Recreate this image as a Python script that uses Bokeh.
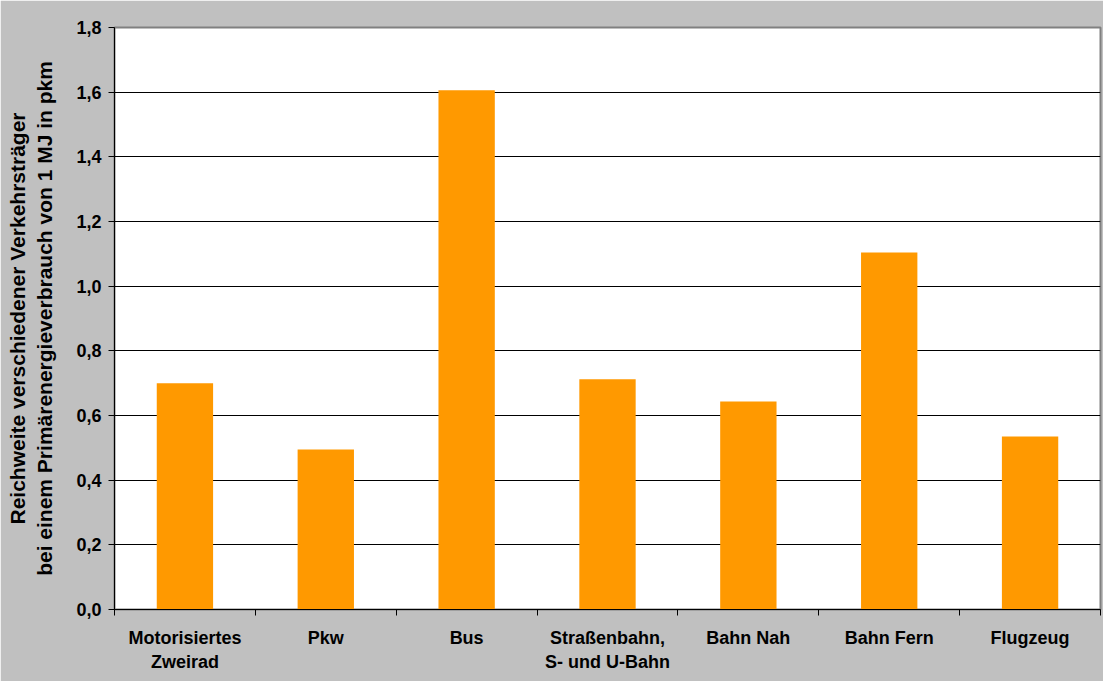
from bokeh.plotting import figure
from bokeh.models import Range1d, FixedTicker, CustomJSTickFormatter, ColumnDataSource
from bokeh.embed import file_html
from bokeh.resources import INLINE

categories = ["Motorisiertes\nZweirad", "Pkw", "Bus", "Straßenbahn,\nS- und U-Bahn",
              "Bahn Nah", "Bahn Fern", "Flugzeug"]
values = [0.70, 0.495, 1.606, 0.712, 0.643, 1.104, 0.535]
y_ticks = [0.0, 0.2, 0.4, 0.6, 0.8, 1.0, 1.2, 1.4, 1.6, 1.8]
y_title = "Reichweite verschiedener Verkehrsträger\nbei einem Primärenergieverbrauch von 1 MJ in pkm"

FONT = "Liberation Sans"

n = len(categories)
centers = [i + 0.5 for i in range(n)]
src = ColumnDataSource(dict(x=centers, top=values))

p = figure(width=1103, height=681, output_backend="svg", toolbar_location=None,
           x_range=Range1d(0, n), y_range=Range1d(0, 1.8),
           min_border_left=114, min_border_top=27, min_border_right=3, min_border_bottom=72)

p.border_fill_color = "#C0C0C0"
p.background_fill_color = "white"
p.outline_line_color = "#808080"
p.outline_line_width = 2

p.vbar(x="x", top="top", bottom=0, width=0.4, source=src,
       fill_color="#FF9900", line_color=None)

# y axis
ya = p.yaxis[0]
ya.ticker = FixedTicker(ticks=y_ticks, minor_ticks=[])
ya.formatter = CustomJSTickFormatter(code="return tick.toFixed(1).replace('.', ',');")
ya.major_tick_out = 6
ya.major_tick_in = 0
ya.minor_tick_line_color = None
ya.major_label_standoff = 7
ya.major_label_text_font = FONT
ya.major_label_text_font_style = "bold"
ya.major_label_text_font_size = "18px"
ya.major_label_text_color = "black"
ya.axis_line_color = "black"
ya.major_tick_line_color = "black"
ya.axis_label = y_title
ya.axis_label_text_font = FONT
ya.axis_label_text_font_style = "bold"
ya.axis_label_text_font_size = "21px"
ya.axis_label_text_color = "black"
ya.axis_label_standoff = 17

# x axis
xa = p.xaxis[0]
xa.ticker = FixedTicker(ticks=centers, minor_ticks=list(range(n + 1)))
xa.formatter = CustomJSTickFormatter(args=dict(labels=categories),
                                     code="return labels[Math.floor(tick)];")
xa.major_tick_line_color = None
xa.major_tick_out = 0
xa.major_tick_in = 0
xa.minor_tick_out = 6
xa.minor_tick_in = 0
xa.minor_tick_line_color = "black"
xa.axis_line_color = "black"
xa.major_label_standoff = 12
xa.major_label_text_font = FONT
xa.major_label_text_font_style = "bold"
xa.major_label_text_font_size = "18px"
xa.major_label_text_color = "black"

p.xgrid.grid_line_color = None
p.ygrid.grid_line_color = "black"
p.ygrid.grid_line_width = 1

open("out.html", "w").write(file_html(p, INLINE))
